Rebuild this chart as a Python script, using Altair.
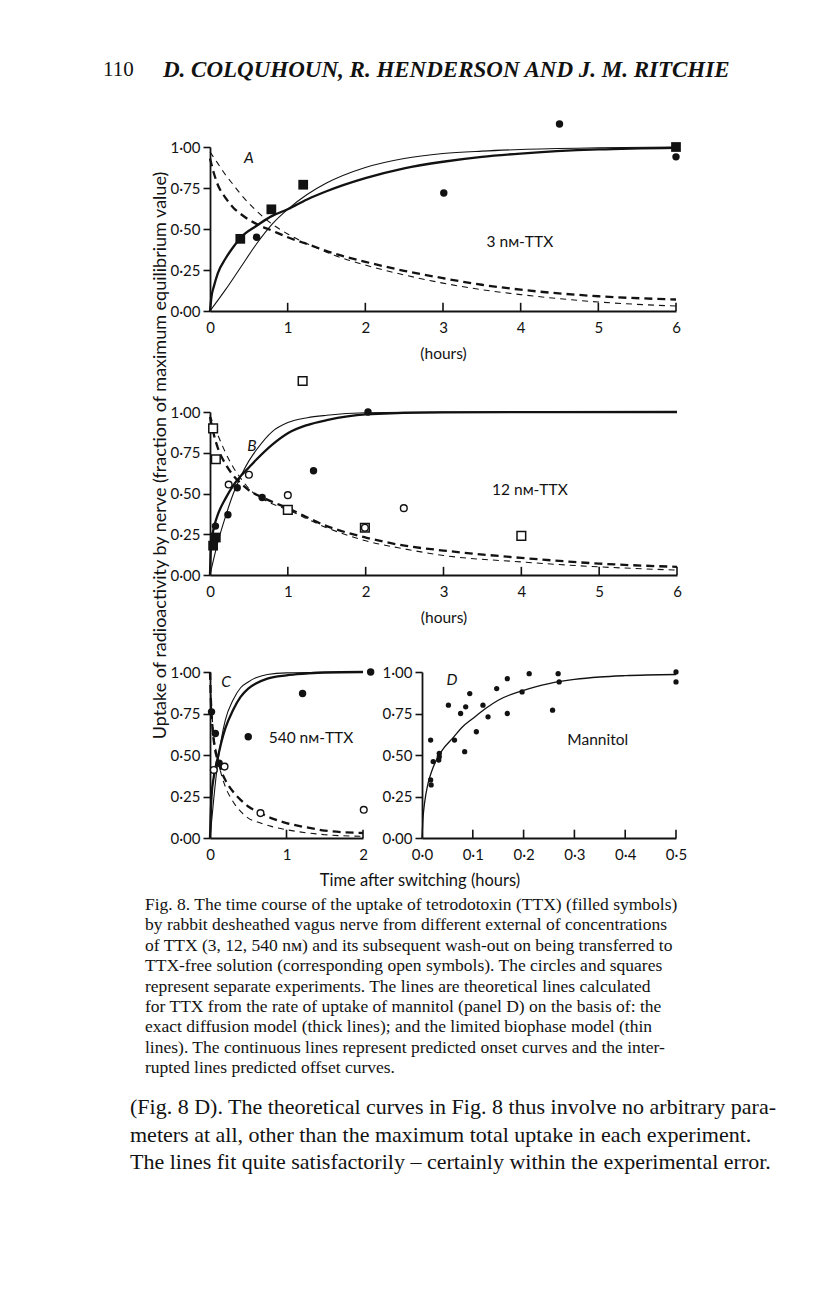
import altair as alt
import pandas as pd

INK = '#121212'
SANS = 'Lato'
SERIF = 'Liberation Serif'

# ---------------- data ----------------
# Panel A (3 nM-TTX), x in hours
A_fsq_x = [0.39, 0.79, 1.20, 6.0]
A_fsq_y = [0.44, 0.62, 0.77, 1.00]
A_fci_x = [0.60, 3.01, 4.50, 6.0]
A_fci_y = [0.45, 0.72, 1.14, 0.94]
A_on_thick_x = [0, 0.02, 0.05, 0.1, 0.2, 0.3, 0.4, 0.6, 0.8, 1.0, 1.25, 1.5, 2.0, 2.5, 3.0, 3.5, 4.0, 5.0, 6.0]
A_on_thick_y = [0, 0.09, 0.15, 0.23, 0.32, 0.39, 0.45, 0.52, 0.58, 0.62, 0.68, 0.73, 0.81, 0.87, 0.91, 0.94, 0.96, 0.985, 0.995]
A_on_thin_x = [0, 0.2, 0.4, 0.6, 0.8, 1.0, 1.25, 1.5, 2.0, 2.5, 3.0, 3.5, 4.0, 5.0, 6.0]
A_on_thin_y = [0, 0.13, 0.27, 0.41, 0.53, 0.62, 0.71, 0.78, 0.875, 0.93, 0.96, 0.975, 0.985, 0.995, 1.0]
A_off_thick_x = [0, 0.05, 0.1, 0.2, 0.3, 0.4, 0.6, 0.8, 1.0, 1.3, 1.6, 2.0, 2.5, 3.0, 3.5, 4.0, 5.0, 6.0]
A_off_thick_y = [0.93, 0.84, 0.77, 0.69, 0.63, 0.59, 0.53, 0.49, 0.45, 0.40, 0.35, 0.30, 0.245, 0.20, 0.16, 0.13, 0.09, 0.07]
A_off_thin_x = [0, 0.1, 0.2, 0.3, 0.4, 0.6, 0.8, 1.0, 1.3, 1.6, 2.0, 2.5, 3.0, 3.5, 4.0, 5.0, 6.0]
A_off_thin_y = [0.97, 0.90, 0.83, 0.77, 0.71, 0.61, 0.53, 0.47, 0.40, 0.34, 0.28, 0.22, 0.17, 0.13, 0.10, 0.055, 0.03]

# Panel B (12 nM-TTX)
B_fsq_x = [0.04, 0.075]
B_fsq_y = [0.18, 0.23]
B_fci_x = [0.07, 0.23, 0.35, 0.67, 1.33, 2.03]
B_fci_y = [0.30, 0.37, 0.535, 0.475, 0.64, 1.00]
B_oci_x = [0.24, 0.50, 1.00, 1.99, 2.49]
B_oci_y = [0.555, 0.615, 0.49, 0.29, 0.41]
B_osq_x = [0.04, 0.075, 1.00, 1.99, 4.00, 1.19]
B_osq_y = [0.90, 0.71, 0.40, 0.29, 0.24, 1.19]
B_on_thick_x = [0, 0.01, 0.03, 0.06, 0.1, 0.2, 0.3, 0.4, 0.5, 0.6, 0.8, 1.0, 1.25, 1.5, 2.0, 3.0, 6.0]
B_on_thick_y = [0, 0.15, 0.24, 0.31, 0.37, 0.47, 0.55, 0.61, 0.66, 0.71, 0.80, 0.87, 0.92, 0.95, 0.985, 0.998, 1.0]
B_on_thin_x = [0, 0.1, 0.2, 0.3, 0.4, 0.5, 0.6, 0.8, 1.0, 1.25, 1.5, 2.0, 3.0, 6.0]
B_on_thin_y = [0, 0.20, 0.36, 0.50, 0.61, 0.70, 0.77, 0.88, 0.935, 0.965, 0.98, 0.995, 1.0, 1.0]
B_off_thick_x = [0, 0.05, 0.1, 0.2, 0.3, 0.4, 0.5, 0.7, 1.0, 1.5, 2.0, 2.5, 3.0, 4.0, 5.0, 6.0]
B_off_thick_y = [0.97, 0.86, 0.78, 0.68, 0.61, 0.56, 0.52, 0.47, 0.41, 0.30, 0.23, 0.18, 0.15, 0.105, 0.07, 0.05]
B_off_thin_x = [0, 0.05, 0.1, 0.2, 0.3, 0.4, 0.5, 0.7, 1.0, 1.5, 2.0, 2.5, 3.0, 4.0, 5.0, 6.0]
B_off_thin_y = [0.98, 0.92, 0.86, 0.75, 0.66, 0.59, 0.53, 0.46, 0.40, 0.29, 0.21, 0.16, 0.12, 0.08, 0.05, 0.03]

# Panel C (540 nM-TTX)
C_fci_x = [0.02, 0.07, 0.12, 0.50, 1.21, 2.10]
C_fci_y = [0.76, 0.63, 0.45, 0.61, 0.87, 1.00]
C_oci_x = [0.05, 0.19, 0.66, 2.01]
C_oci_y = [0.41, 0.43, 0.15, 0.17]
C_on_thick_x = [0, 0.02, 0.05, 0.1, 0.15, 0.2, 0.3, 0.4, 0.5, 0.6, 0.75, 1.0, 1.25, 1.5, 2.0]
C_on_thick_y = [0, 0.25, 0.37, 0.48, 0.58, 0.66, 0.77, 0.85, 0.90, 0.93, 0.96, 0.98, 0.99, 0.997, 1.0]
C_on_thin_x = [0, 0.05, 0.1, 0.15, 0.2, 0.3, 0.4, 0.5, 0.6, 0.75, 1.0, 2.0]
C_on_thin_y = [0, 0.24, 0.45, 0.60, 0.71, 0.83, 0.905, 0.94, 0.965, 0.985, 0.995, 1.0]
C_off_thick_x = [0, 0.01, 0.03, 0.06, 0.1, 0.15, 0.2, 0.3, 0.4, 0.5, 0.66, 0.8, 1.0, 1.25, 1.5, 2.0]
C_off_thick_y = [1.0, 0.85, 0.68, 0.55, 0.47, 0.40, 0.35, 0.28, 0.23, 0.19, 0.15, 0.12, 0.09, 0.065, 0.045, 0.03]
C_off_thin_x = [0, 0.01, 0.03, 0.06, 0.1, 0.15, 0.2, 0.3, 0.4, 0.5, 0.66, 0.8, 1.0, 1.5, 2.0]
C_off_thin_y = [1.0, 0.88, 0.72, 0.58, 0.48, 0.38, 0.31, 0.22, 0.16, 0.12, 0.09, 0.07, 0.05, 0.02, 0.01]

# Panel D (Mannitol)
D_x = [0.017, 0.022, 0.017, 0.018, 0.034, 0.034, 0.033, 0.052, 0.064, 0.076, 0.084, 0.086, 0.094,
       0.107, 0.120, 0.130, 0.147, 0.168, 0.168, 0.197, 0.211, 0.257, 0.268, 0.270, 0.50, 0.50]
D_y = [0.59, 0.46, 0.35, 0.32, 0.51, 0.49, 0.47, 0.80, 0.59, 0.75, 0.52, 0.79, 0.87,
       0.64, 0.80, 0.73, 0.90, 0.96, 0.75, 0.88, 0.99, 0.77, 0.99, 0.94, 1.00, 0.94]
D_fit_x = [0, 0.002, 0.005, 0.012, 0.02, 0.03, 0.04, 0.06, 0.08, 0.1, 0.125, 0.15, 0.2, 0.25, 0.3, 0.35, 0.4, 0.5]
D_fit_y = [0, 0.12, 0.21, 0.33, 0.41, 0.48, 0.53, 0.60, 0.67, 0.72, 0.78, 0.83, 0.89, 0.93, 0.955, 0.97, 0.978, 0.985]

# axis ticks
Y_TICKS = [0, 0.25, 0.5, 0.75, 1.0]
AB_XTICKS = [0, 1, 2, 3, 4, 5, 6]
C_XTICKS = [0, 1, 2]
D_XTICKS = [0, 0.1, 0.2, 0.3, 0.4, 0.5]

# text
HEADER_PAGE = "110"
HEADER_AUTHORS = "D. COLQUHOUN, R. HENDERSON AND J. M. RITCHIE"
Y_TITLE = "Uptake of radioactivity by nerve (fraction of maximum equilibrium value)"
X_TITLE_BOTTOM = "Time after switching (hours)"
CAPTION = [
    "Fig. 8. The time course of the uptake of tetrodotoxin (TTX) (filled symbols)",
    "by rabbit desheathed vagus nerve from different external of concentrations",
    "of TTX (3, 12, 540 nм) and its subsequent wash-out on being transferred to",
    "TTX-free solution (corresponding open symbols). The circles and squares",
    "represent separate experiments. The lines are theoretical lines calculated",
    "for TTX from the rate of uptake of mannitol (panel D) on the basis of: the",
    "exact diffusion model (thick lines); and the limited biophase model (thin",
    "lines). The continuous lines represent predicted onset curves and the inter-",
    "rupted lines predicted offset curves.",
]
BODY = [
    "(Fig. 8 D). The theoretical curves in Fig. 8 thus involve no arbitrary para-",
    "meters at all, other than the maximum total uptake in each experiment.",
    "The lines fit quite satisfactorily – certainly within the experimental error.",
]

# ---------------- helpers ----------------
THICK, THIN = 2.3, 1.1
DASH_THICK, DASH_THIN = [8, 5], [6, 5]


def y_axis(**extra):
    return alt.Axis(values=Y_TICKS,
                    labelExpr="replace(format(datum.value, '.2f'), '.', '·')",
                    tickSize=7, tickWidth=1.6, tickColor=INK,
                    domainColor=INK, domainWidth=1.8,
                    labelFont=SANS, labelFontSize=15, labelColor=INK, labelPadding=3,
                    grid=False, **extra)


def x_axis(values, fmt, title):
    kw = dict(values=values, labelExpr=fmt, tickSize=0,
              domainColor=INK, domainWidth=1.8,
              labelFont=SANS, labelFontSize=15, labelColor=INK, labelPadding=9,
              grid=False, labelFlush=False)
    if title:
        kw.update(title=title, titleFont=SANS, titleFontSize=15.5, titleFontWeight='normal',
                  titleColor=INK, titlePadding=11)
    else:
        kw.update(title=None)
    return alt.Axis(**kw)


def panel_layers(xdom, xticks, xfmt, xtitle, yax, curves, points, labels):
    X = alt.X('x:Q', scale=alt.Scale(domain=xdom, nice=False, zero=False),
              axis=x_axis(xticks, xfmt, xtitle))
    Y = alt.Y('y:Q', scale=alt.Scale(domain=[0, 1], nice=False), axis=yax)
    layers = []
    for xs, ys, sw, dash in curves:
        kw = dict(strokeWidth=sw, color=INK, interpolate='monotone')
        if dash:
            kw['strokeDash'] = dash
        layers.append(alt.Chart(pd.DataFrame({'x': xs, 'y': ys})).mark_line(**kw).encode(x=X, y=Y))
    for xs, ys, kind, size in points:
        df = pd.DataFrame({'x': xs, 'y': ys})
        if kind == 'fsq':
            m = alt.Chart(df).mark_point(shape='square', filled=True, size=size, color=INK, opacity=1)
        elif kind == 'osq':
            m = alt.Chart(df).mark_point(shape='square', filled=False, size=size, color=INK,
                                         strokeWidth=1.5, fill='white', fillOpacity=1, opacity=1)
        elif kind == 'fci':
            m = alt.Chart(df).mark_point(shape='circle', filled=True, size=size, color=INK, opacity=1)
        else:
            m = alt.Chart(df).mark_point(shape='circle', filled=False, size=size, color=INK,
                                         strokeWidth=1.4, fill='white', fillOpacity=1, opacity=1)
        layers.append(m.encode(x=X, y=Y))
    inner = [t for t in xticks if t > xdom[0]]
    layers.append(alt.Chart(pd.DataFrame({'x': inner})).mark_rule(color=INK, strokeWidth=1.6)
                  .encode(x=X, y=alt.datum(0), y2=alt.datum(0.05)))
    for txt, xv, yv, style in labels:
        kw = dict(font=SANS, fontSize=15.5, color=INK, align='center', baseline='middle')
        if style == 'italic':
            kw['fontStyle'] = 'italic'
        mk = alt.Chart(pd.DataFrame({'t': [txt]})).mark_text(**kw)
        layers.append(mk.encode(x=alt.datum(xv), y=alt.datum(yv), text='t:N'))
    return layers


int_fmt = "format(datum.value, 'd')"
dec_fmt = "replace(format(datum.value, '.1f'), '.', '·')"

pA = alt.layer(*panel_layers(
    [0, 6], AB_XTICKS, int_fmt, '(hours)', y_axis(title=None),
    [(A_on_thick_x, A_on_thick_y, THICK, None), (A_on_thin_x, A_on_thin_y, THIN, None),
     (A_off_thick_x, A_off_thick_y, THICK, DASH_THICK), (A_off_thin_x, A_off_thin_y, THIN, DASH_THIN)],
    [(A_fsq_x, A_fsq_y, 'fsq', 95), (A_fci_x, A_fci_y, 'fci', 55)],
    [('A', 0.5, 0.93, 'italic'), ('3 nм-TTX', 3.99, 0.42, 'normal')])).properties(width=466, height=164)

pB = alt.layer(*panel_layers(
    [0, 6], AB_XTICKS, int_fmt, '(hours)',
    y_axis(title=Y_TITLE, titleAngle=270, titleX=-50, titleY=43, titleAlign='center',
           titleBaseline='middle', titleFont=SANS, titleFontSize=18, titleFontWeight='normal',
           titleColor=INK),
    [(B_on_thick_x, B_on_thick_y, THICK, None), (B_on_thin_x, B_on_thin_y, THIN, None),
     (B_off_thick_x, B_off_thick_y, THICK, DASH_THICK), (B_off_thin_x, B_off_thin_y, THIN, DASH_THIN)],
    [(B_fsq_x, B_fsq_y, 'fsq', 95), (B_fci_x, B_fci_y, 'fci', 55),
     (B_osq_x, B_osq_y, 'osq', 75), (B_oci_x, B_oci_y, 'oci', 45)],
    [('B', 0.54, 0.79, 'italic'), ('12 nм-TTX', 4.11, 0.52, 'normal')])).properties(width=467, height=163)


# Text below the panels, placed relative to panel C (plot top at page y 672, left at x 210)
def text_line(txt, x_px, y_px, font, size, align='left', style='normal'):
    return alt.Chart(pd.DataFrame({'t': [txt]})).mark_text(
        font=font, fontSize=size, fontStyle=style, color=INK, align=align, baseline='middle').encode(
        x=alt.value(x_px), y=alt.value(y_px), text='t:N')


below = [text_line(X_TITLE_BOTTOM, 210, 209, SANS, 16.5, align='center')]
for i, ln in enumerate(CAPTION):
    below.append(text_line(ln, -65, 233 + 20.4 * i, SERIF, 17.5))
for i, ln in enumerate(BODY):
    below.append(text_line(ln, -80, 435 + 27.5 * i, SERIF, 22))

pC = alt.layer(*panel_layers(
    [0, 2], C_XTICKS, int_fmt, None, y_axis(title=None),
    [(C_on_thick_x, C_on_thick_y, THICK, None), (C_on_thin_x, C_on_thin_y, THIN, None),
     (C_off_thick_x, C_off_thick_y, THICK, DASH_THICK), (C_off_thin_x, C_off_thin_y, THIN, DASH_THIN)],
    [(C_fci_x, C_fci_y, 'fci', 55), (C_oci_x, C_oci_y, 'oci', 45)],
    [('C', 0.21, 0.94, 'italic'), ('540 nм-TTX', 1.32, 0.60, 'normal')]), *below).properties(width=153, height=166)

pD = alt.layer(*panel_layers(
    [0, 0.5], D_XTICKS, dec_fmt, None, y_axis(title=None),
    [(D_fit_x, D_fit_y, 1.3, None)],
    [(D_x, D_y, 'fci', 28)],
    [('D', 0.059, 0.95, 'italic'), ('Mannitol', 0.346, 0.59, 'normal')])).properties(width=254, height=166)


def spacer(h, w=466):
    return alt.Chart(pd.DataFrame({'t': ['']})).mark_text().encode(text='t:N').properties(width=w, height=h)


header = alt.layer(
    text_line(HEADER_PAGE, -107, 20, SERIF, 21),
    alt.Chart(pd.DataFrame({'t': [HEADER_AUTHORS]})).mark_text(
        font=SERIF, fontSize=23, fontStyle='italic', fontWeight='bold', color=INK,
        align='left', baseline='middle').encode(x=alt.value(-47), y=alt.value(20), text='t:N'),
).properties(width=466, height=97)

cd = alt.hconcat(pC, pD, spacing=59, bounds='flush')

chart = alt.vconcat(header, pA, spacer(101), pB, spacer(97), cd,
                    spacing=0, bounds='flush').properties(
    padding={'left': 95, 'top': 42, 'right': 5, 'bottom': 5},
    background='white'
).configure_view(stroke=None, strokeWidth=0)

chart.save("out.html", embed_options={"renderer": "svg", "actions": False})
